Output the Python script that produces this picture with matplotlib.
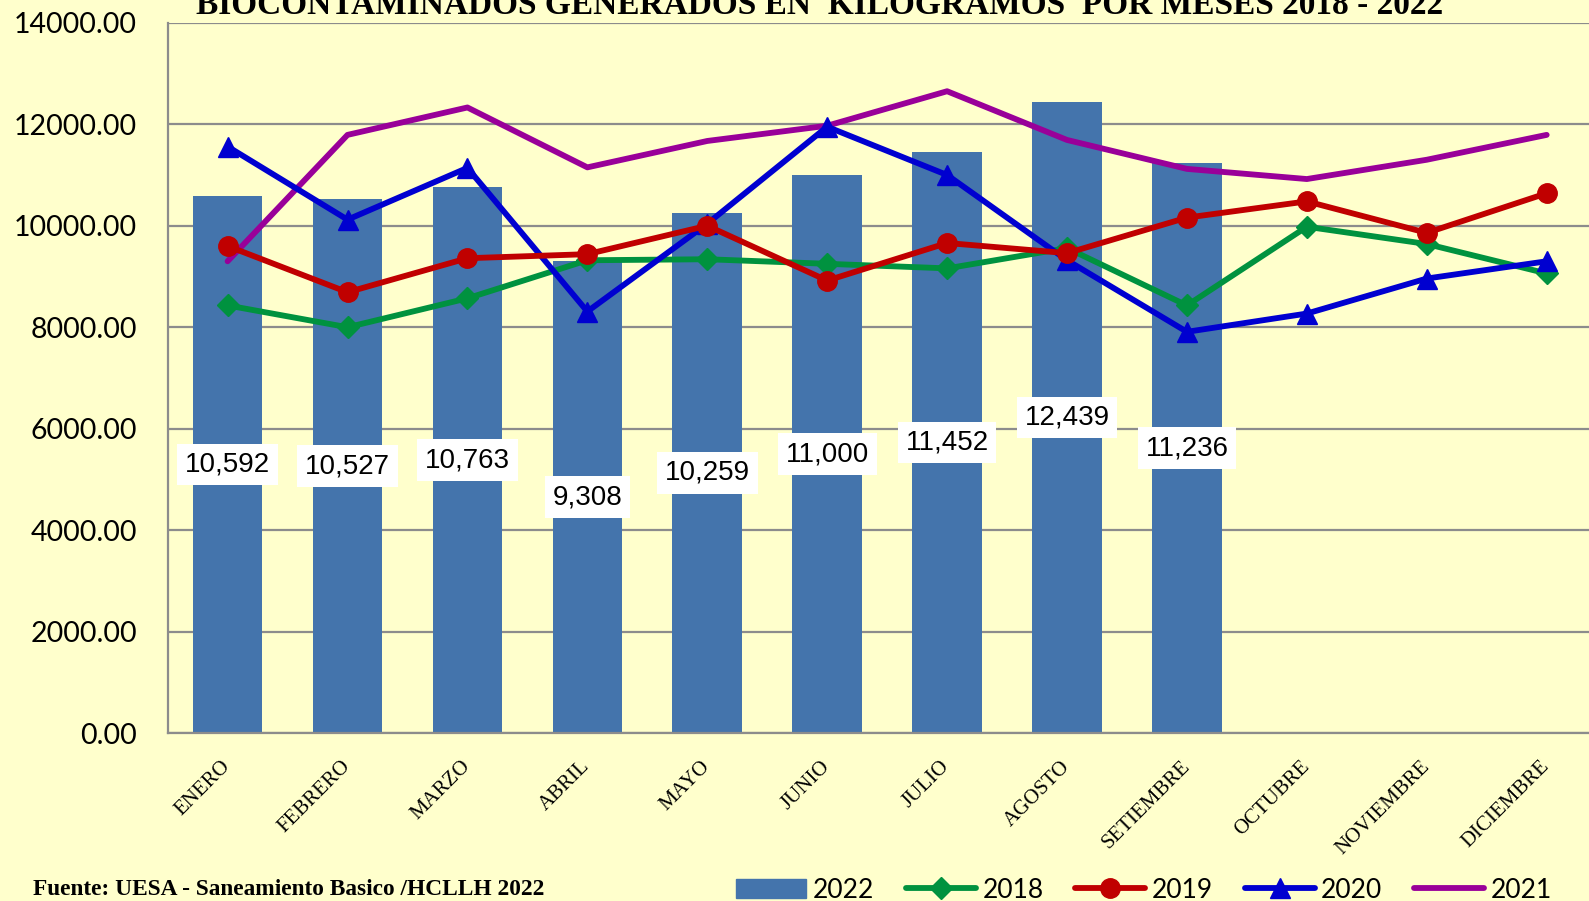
import numpy as np
import matplotlib.pyplot as plt
from matplotlib.patches import Patch

# monthly bio-contaminated waste, kg
meses = ["ENERO", "FEBRERO", "MARZO", "ABRIL", "MAYO", "JUNIO", "JULIO",
         "AGOSTO", "SETIEMBRE", "OCTUBRE", "NOVIEMBRE", "DICIEMBRE"]
kg_2022 = [10592, 10527, 10763, 9308, 10259, 11000, 11452, 12439, 11236]
kg_2018 = [8430, 8000, 8570, 9320, 9340, 9250, 9160, 9560, 8430, 9980, 9640, 9060]
kg_2019 = [9600, 8690, 9360, 9440, 10000, 8920, 9660, 9460, 10160, 10480, 9860, 10640]
kg_2020 = [11560, 10120, 11140, 8310, 10040, 11950, 11000, 9320, 7910, 8270, 8960, 9300]
kg_2021 = [9300, 11790, 12330, 11150, 11670, 11970, 12650, 11690, 11120, 10920, 11300, 11790]

fondo = "#FFFFCC"
gris = "#8C8C8C"

fig = plt.figure(figsize=(15.89, 9.01), dpi=100, facecolor=fondo)
ax = fig.add_axes([0.1055, 0.1861, 0.9056, 0.7887], facecolor=fondo)

x = np.arange(len(meses))

# 2022 bars with value boxes at mid height
ax.bar(x[:len(kg_2022)], kg_2022, width=0.58, color="#4474AC", zorder=2)
for xi, v in zip(x, kg_2022):
    ax.text(xi, v / 2, f"{v:,}", ha="center", va="center", fontsize=20,
            family=["Liberation Sans Narrow", "Liberation Sans"], zorder=8,
            bbox=dict(boxstyle="square,pad=0.28", fc="white", ec="none"))

lw = 4.2
l21, = ax.plot(x, kg_2021, color="#990099", lw=lw, solid_capstyle="round", zorder=3)
l18, = ax.plot(x, kg_2018, color="#00923F", lw=lw, marker="D", ms=11,
               solid_capstyle="round", zorder=4)
l20, = ax.plot(x, kg_2020, color="#0000D0", lw=lw, marker="^", ms=15,
               solid_capstyle="round", zorder=5)
l19, = ax.plot(x, kg_2019, color="#C00000", lw=lw, marker="o", ms=14,
               solid_capstyle="round", zorder=6)

ax.set_xlim(-0.5, 11.5)
ax.set_ylim(0, 14000)
ax.set_yticks(np.arange(0, 14001, 2000))
ax.set_yticklabels([f"{t:.2f}" for t in np.arange(0, 14001, 2000)],
                   fontsize=20.5, family="Lato")
ax.set_xticks(x)
ax.set_xticklabels(meses, rotation=45, ha="right", va="center",
                   rotation_mode="anchor", fontsize=15, family="Liberation Serif")
ax.tick_params(axis="y", length=0, pad=22)
ax.tick_params(axis="x", length=0, pad=22)

ax.grid(axis="y", color=gris, lw=1.6, zorder=0)
ax.set_axisbelow(True)
for s in ["top", "right"]:
    ax.spines[s].set_visible(False)
for s in ["left", "bottom"]:
    ax.spines[s].set_color(gris)
    ax.spines[s].set_linewidth(1.6)

fig.text(0.5155, 0.985, "BIOCONTAMINADOS GENERADOS EN  KILOGRAMOS  POR MESES 2018 - 2022",
         ha="center", va="baseline", fontsize=24, fontweight="bold",
         family="Liberation Serif")
fig.text(0.0205, 0.0065, "Fuente: UESA - Saneamiento Basico /HCLLH 2022",
         ha="left", va="baseline", fontsize=16.8, fontweight="bold",
         family="Liberation Serif")

handles = [Patch(color="#4474AC"), l18, l19, l20, l21]
fig.legend(handles, ["2022", "2018", "2019", "2020", "2021"], ncol=5,
           loc="center", bbox_to_anchor=(0.72, 0.012), frameon=False,
           prop={"family": "Lato", "size": 19}, handlelength=2.65,
           handletextpad=0.25, columnspacing=1.2, borderpad=0, borderaxespad=0)

fig.savefig("out.png", dpi=100, facecolor=fondo)
